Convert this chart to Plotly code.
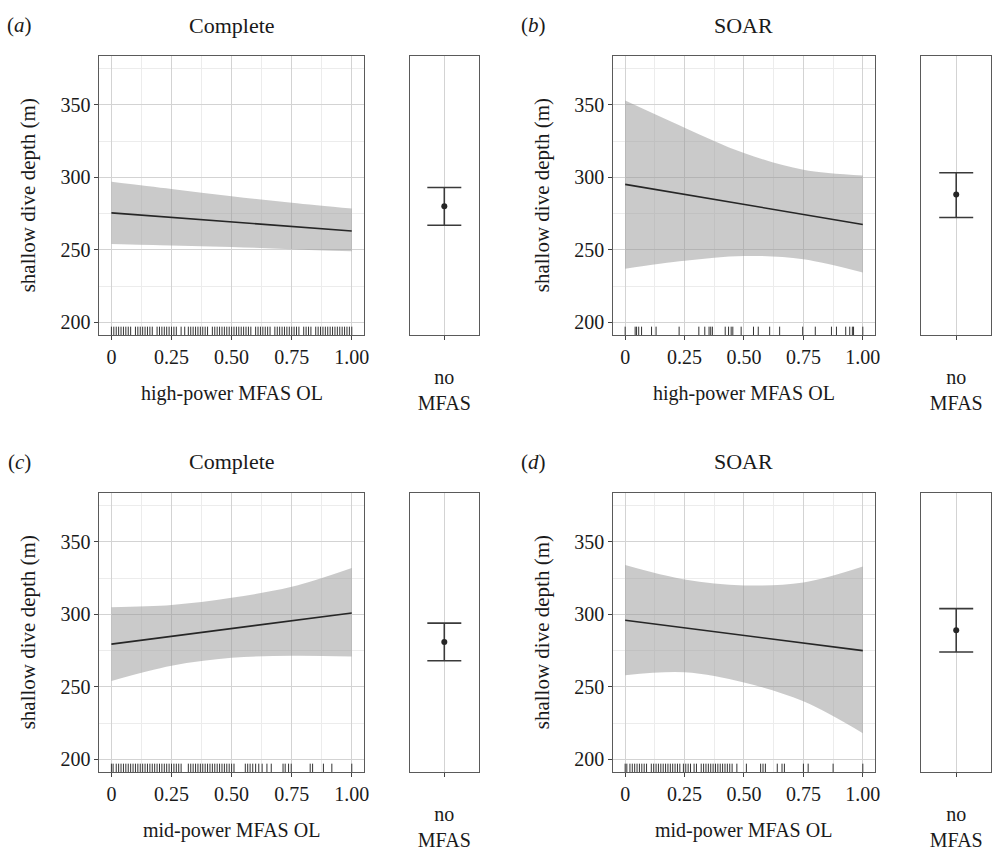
import plotly.graph_objects as go

W, H = 997, 857
FONT = "Liberation Serif"
TXT = "#1a1a1a"

# ---------------- data ----------------
curve_x = [0.0, 0.25, 0.5, 0.75, 1.0]

a_fit = [275.5, 272.4, 269.3, 266.1, 263.0]
a_upper = [297.0, 292.0, 287.0, 282.5, 278.5]
a_lower = [254.0, 253.0, 252.0, 250.5, 249.0]

b_fit = [295.2, 288.3, 281.4, 274.4, 267.5]
b_upper = [353.0, 334.3, 316.8, 305.2, 301.3]
b_lower = [237.0, 242.4, 245.8, 243.5, 234.3]

c_fit = [279.5, 284.9, 290.3, 295.6, 301.0]
c_upper = [305.0, 306.5, 311.5, 319.0, 332.0]
c_lower = [254.0, 264.5, 270.0, 271.5, 271.0]

d_fit = [296.0, 290.8, 285.5, 280.3, 275.0]
d_upper = [334.0, 324.0, 320.0, 322.0, 333.0]
d_lower = [258.0, 260.0, 253.0, 240.0, 218.0]

nomfas_cat = ["no<br>MFAS"]
a_nomfas = [280.0, 267.0, 293.0]   # estimate, lower, upper
b_nomfas = [288.2, 272.3, 303.2]
c_nomfas = [281.0, 268.0, 294.0]
d_nomfas = [289.0, 274.0, 304.0]

rug_a = [0.00, 0.01, 0.02, 0.03, 0.04, 0.05, 0.06, 0.07, 0.08,
         0.10, 0.11, 0.12, 0.13, 0.14, 0.15, 0.16, 0.17,
         0.19, 0.20, 0.21, 0.22, 0.23, 0.24, 0.25, 0.26, 0.27,
         0.29, 0.305, 0.32, 0.33, 0.34, 0.35, 0.36, 0.37, 0.38, 0.39, 0.40,
         0.42, 0.43, 0.44, 0.45, 0.46, 0.47, 0.48, 0.49, 0.50, 0.51, 0.52,
         0.53, 0.54, 0.55, 0.56, 0.57, 0.58,
         0.60, 0.61, 0.62, 0.63, 0.64, 0.65, 0.66,
         0.68, 0.69, 0.70, 0.71, 0.72, 0.73, 0.74, 0.75, 0.76, 0.77, 0.78,
         0.80, 0.81, 0.82, 0.83,
         0.85, 0.86, 0.87, 0.88, 0.89, 0.90, 0.91, 0.92, 0.93, 0.94, 0.95,
         0.96, 0.97, 0.98, 0.99, 1.00]

rug_b = [0.0, 0.042, 0.048, 0.057, 0.069, 0.111, 0.130, 0.227, 0.31, 0.335,
         0.353, 0.36, 0.367, 0.421, 0.435, 0.446, 0.453, 0.488, 0.54, 0.56,
         0.608, 0.65, 0.747, 0.80, 0.868, 0.889, 0.928, 0.945, 0.956, 0.961, 1.0]

rug_c = [0.0, 0.007,
         0.02, 0.03, 0.04, 0.05, 0.06, 0.07, 0.08, 0.09, 0.10, 0.11, 0.12,
         0.13, 0.14, 0.15, 0.16, 0.17, 0.18, 0.19, 0.20, 0.21, 0.22, 0.23,
         0.24, 0.25, 0.26, 0.27, 0.28, 0.29,
         0.32, 0.33, 0.34, 0.35, 0.36, 0.37, 0.38, 0.39, 0.40, 0.41, 0.42,
         0.43, 0.44, 0.45, 0.46, 0.47, 0.48, 0.49, 0.50, 0.51,
         0.557, 0.567, 0.577, 0.588, 0.60, 0.613, 0.627, 0.647, 0.665,
         0.714, 0.723, 0.737, 0.748, 0.827, 0.837, 0.882, 0.917, 1.0]

rug_d = [0.0, 0.007,
         0.02, 0.03, 0.04, 0.05, 0.06, 0.07, 0.08, 0.09,
         0.11, 0.12, 0.13, 0.14, 0.15, 0.16, 0.17, 0.18, 0.19, 0.20, 0.21,
         0.22, 0.23, 0.245, 0.255, 0.265, 0.275, 0.29, 0.30,
         0.32, 0.33, 0.34, 0.35, 0.36, 0.37, 0.38, 0.39, 0.40, 0.41, 0.42,
         0.43, 0.44, 0.45, 0.47, 0.51, 0.57, 0.58, 0.59, 0.64, 0.66, 0.67,
         0.75, 0.77, 0.875, 1.0]

x_tickvals = [0, 0.25, 0.5, 0.75, 1.0]
x_ticktext = ["0", "0.25", "0.50", "0.75", "1.00"]
x_minor = [0.125, 0.375, 0.625, 0.875]
y_tickvals = [200, 250, 300, 350]
y_minor = [225, 275, 325, 375]
y_range = [191.25, 383.75]
rug_top = 197.0

panel_titles = ["Complete", "SOAR", "Complete", "SOAR"]
panel_tags = ["a", "b", "c", "d"]
x_titles = ["high-power MFAS OL", "high-power MFAS OL",
            "mid-power MFAS OL", "mid-power MFAS OL"]
y_title = "shallow dive depth (m)"

# ---------------- layout geometry (pixels of the target picture) ----------------
main_x = [(100, 366), (617, 880)]
narrow_x = [(412, 482), (927, 997)]
rows_y = [(56, 335), (493, 772)]


def fx(p):
    return p / W


def fy(p):
    return 1 - p / H


fig = go.Figure()

panels = [
    (a_fit, a_upper, a_lower, rug_a, a_nomfas),
    (b_fit, b_upper, b_lower, rug_b, b_nomfas),
    (c_fit, c_upper, c_lower, rug_c, c_nomfas),
    (d_fit, d_upper, d_lower, rug_d, d_nomfas),
]

GRID = "#d3d3d3"
MINOR = "#ececec"
BORDER = "#5a5a5a"
TICKC = "#444444"
TICK_SIZE = 20
LAB_SIZE = 21

layout = dict(
    width=W, height=H, margin=dict(l=0, r=0, t=0, b=0),
    paper_bgcolor="white", plot_bgcolor="white", showlegend=False,
    hovermode=False,
    font=dict(family=FONT, color=TXT, size=20),
)
annotations = []


def ann(text, x, y, angle=0, size=LAB_SIZE):
    return dict(text=text, x=fx(x), y=fy(y), xref="paper", yref="paper",
                xanchor="center", yanchor="middle", showarrow=False,
                textangle=angle, font=dict(family=FONT, size=size, color=TXT))


for i, (fit, up, lo, rug, nm) in enumerate(panels):
    r, c = divmod(i, 2)
    mi = 2 * i + 1
    ni = 2 * i + 2
    mx = "x" if mi == 1 else f"x{mi}"
    my = "y" if mi == 1 else f"y{mi}"
    nx = f"x{ni}"
    ny = f"y{ni}"
    y0, y1 = rows_y[r]
    ydom = [fy(y1), fy(y0)]

    layout["xaxis" if mi == 1 else f"xaxis{mi}"] = dict(
        domain=[fx(main_x[c][0]), fx(main_x[c][1])], anchor=my,
        range=[-0.05, 1.05], tickvals=x_tickvals, ticktext=x_ticktext,
        showgrid=True, gridcolor=GRID, gridwidth=1, zeroline=False,
        minor=dict(tickvals=x_minor, showgrid=True, gridcolor=MINOR, gridwidth=1),
        showline=True, linecolor=BORDER, linewidth=1, mirror=True,
        ticks="outside", ticklen=4, tickcolor=TICKC, tickwidth=1,
        tickfont=dict(family=FONT, size=TICK_SIZE, color=TXT),
    )
    layout["yaxis" if mi == 1 else f"yaxis{mi}"] = dict(
        domain=ydom, anchor=mx, range=y_range, tickvals=y_tickvals,
        showgrid=True, gridcolor=GRID, gridwidth=1, zeroline=False,
        minor=dict(tickvals=y_minor, showgrid=True, gridcolor=MINOR, gridwidth=1),
        showline=True, linecolor=BORDER, linewidth=1, mirror=True,
        ticks="outside", ticklen=4, tickcolor=TICKC, tickwidth=1,
        tickfont=dict(family=FONT, size=TICK_SIZE, color=TXT),
    )
    layout[f"xaxis{ni}"] = dict(
        domain=[fx(narrow_x[c][0]), fx(narrow_x[c][1])], anchor=ny,
        type="category", range=[-0.6, 0.6],
        showgrid=True, gridcolor=GRID, gridwidth=1, zeroline=False,
        showline=True, linecolor=BORDER, linewidth=1, mirror=True,
        ticks="outside", ticklen=4, tickcolor=TICKC, tickwidth=1,
        tickfont=dict(family=FONT, size=TICK_SIZE, color=TXT),
        ticklabelstandoff=20,
    )
    layout[f"yaxis{ni}"] = dict(
        domain=ydom, anchor=nx, range=y_range, showgrid=False,
        zeroline=False, showticklabels=False, ticks="",
        showline=True, linecolor=BORDER, linewidth=1, mirror=True,
    )

    # ribbon
    fig.add_trace(go.Scatter(x=curve_x, y=lo, mode="lines", line=dict(width=0, shape="spline"),
                             xaxis=mx, yaxis=my, hoverinfo="skip"))
    fig.add_trace(go.Scatter(x=curve_x, y=up, mode="lines", line=dict(width=0, shape="spline"),
                             fill="tonexty", fillcolor="rgba(150,150,150,0.5)",
                             xaxis=mx, yaxis=my, hoverinfo="skip"))
    # fit line
    fig.add_trace(go.Scatter(x=curve_x, y=fit, mode="lines",
                             line=dict(color="#262626", width=1.6),
                             xaxis=mx, yaxis=my))
    # rug
    rx, ry = [], []
    for v in rug:
        rx += [v, v, None]
        ry += [y_range[0], rug_top, None]
    fig.add_trace(go.Scatter(x=rx, y=ry, mode="lines",
                             line=dict(color="#333333", width=1),
                             xaxis=mx, yaxis=my, hoverinfo="skip"))
    # no MFAS estimate
    est, lo_e, up_e = nm
    fig.add_trace(go.Scatter(
        x=nomfas_cat, y=[est], mode="markers",
        marker=dict(color="#262626", size=6),
        error_y=dict(type="data", symmetric=False, array=[up_e - est],
                     arrayminus=[est - lo_e], color="#3a3a3a", thickness=1.6, width=17),
        xaxis=nx, yaxis=ny))

    # annotations
    top = y0
    cx = (main_x[c][0] + main_x[c][1]) / 2
    annotations.append(ann(f"(<i>{panel_tags[i]}</i>)", 20 + 517 * c, top - 31))
    annotations.append(ann(panel_titles[i], cx, top - 31, size=22))
    annotations.append(ann(y_title, 28 + 517 * c, (y0 + y1) / 2, angle=-90))
    annotations.append(ann(x_titles[i], cx, y1 + 58, size=20))

layout["annotations"] = annotations
fig.update_layout(**layout)
fig.write_html(
    "out.html",
    config={"displayModeBar": False, "staticPlot": True},
    post_script="document.body.style.margin='0';document.body.style.overflow='hidden';",
)
